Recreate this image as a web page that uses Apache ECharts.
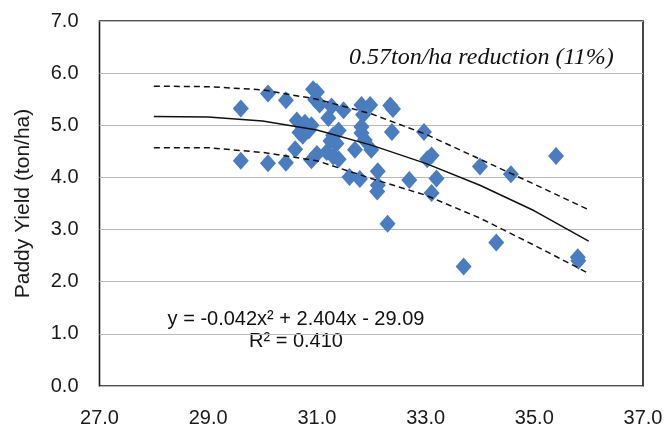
<!DOCTYPE html>
<html>
<head>
<meta charset="utf-8">
<script src="https://cdn.jsdelivr.net/npm/echarts@6/dist/echarts.min.js"></script>
<style>
  html, body { margin: 0; padding: 0; background: #fff; }
  #chart { width: 669px; height: 425px; }
</style>
</head>
<body>
<div id="chart"></div>
<script>
// Observed temperature (°C) and paddy yield (ton/ha)
const tempX = [
  29.6, 29.6, 30.1, 30.1, 30.43, 30.43, 30.6, 30.63, 30.74, 30.78,
  30.9, 30.85, 30.93, 31.0, 30.97, 30.9, 31.0, 31.18, 31.21, 31.27,
  31.3, 31.3, 31.36, 31.49, 31.4, 31.6, 31.79, 31.7, 31.82, 31.98,
  31.82, 31.82, 31.88, 32.0, 31.85, 32.12, 32.12, 32.11, 32.3, 32.35,
  32.4, 32.38, 32.7, 32.97, 33.03, 33.11, 33.11, 33.2, 34.0, 34.57,
  35.4, 34.3, 33.7, 35.8, 35.81, 31.25, 31.05, 31.4, 30.68
];
const yieldY = [
  5.32, 4.32, 5.61, 4.27, 5.48, 4.28, 4.54, 5.09, 4.80, 5.05,
  5.00, 4.90, 5.69, 5.64, 5.49, 4.33, 4.45, 4.49, 5.14, 5.36,
  4.81, 4.40, 4.65, 5.29, 4.90, 4.01, 3.97, 4.53, 5.39, 5.39,
  4.97, 4.85, 4.72, 4.53, 5.20, 4.12, 3.85, 3.73, 3.11, 5.38,
  5.31, 4.87, 3.95, 4.87, 4.35, 4.42, 3.70, 3.98, 4.21, 4.06,
  4.41, 2.75, 2.29, 2.47, 2.40, 4.70, 5.40, 4.35, 4.86
];

// Quadratic trend and its upper / lower bands
const fitX   = [28, 29, 30, 31, 32, 33, 34, 35, 36];
const fitY   = [5.17, 5.16, 5.08, 4.91, 4.62, 4.27, 3.85, 3.36, 2.78];
const upperY = [5.75, 5.74, 5.68, 5.50, 5.22, 4.83, 4.35, 3.87, 3.38];
const lowerY = [4.57, 4.57, 4.48, 4.32, 3.98, 3.66, 3.22, 2.70, 2.16];

const equationText = 'y = -0.042x\u00B2 + 2.404x - 29.09';
const r2Text = 'R\u00B2 = 0.410';
const noteText = '0.57ton/ha reduction (11%)';

const pairs = (xs, ys) => xs.map((x, i) => [x, ys[i]]);
const sansFont = 'Liberation Sans, Arial, sans-serif';

const chart = echarts.init(document.getElementById('chart'), null, { renderer: 'canvas' });

const lineBase = {
  type: 'line',
  symbol: 'none',
  silent: true,
  z: 5,
  animation: false
};

chart.setOption({
  animation: false,
  backgroundColor: '#fff',
  grid: {
    left: 99.5, right: 26, top: 21, bottom: 39,
    show: true, borderColor: '#1a1a1a', borderWidth: 1.6,
    containLabel: false, outerBoundsMode: 'none'
  },
  xAxis: {
    type: 'value',
    min: 27, max: 37, interval: 2,
    axisLine: { show: false },
    axisTick: { show: false },
    splitLine: { show: false },
    axisLabel: {
      margin: 22,
      color: '#1a1a1a',
      fontFamily: sansFont,
      fontSize: 20,
      formatter: v => v.toFixed(1)
    }
  },
  yAxis: {
    type: 'value',
    min: 0, max: 7, interval: 1,
    name: 'Paddy Yield (ton/ha)',
    nameLocation: 'middle',
    nameRotate: 90,
    nameGap: 66,
    nameTextStyle: { color: '#1a1a1a', fontFamily: sansFont, fontSize: 21 },
    axisLine: { show: false },
    axisTick: { show: false },
    splitLine: { show: true, lineStyle: { color: '#b8b8b8', width: 1.2 } },
    axisLabel: {
      margin: 21,
      color: '#1a1a1a',
      fontFamily: sansFont,
      fontSize: 20,
      formatter: v => v.toFixed(1)
    }
  },
  graphic: [
    {
      type: 'text', left: 349, top: 46, silent: true,
      style: {
        text: noteText,
        font: 'italic 24px "Liberation Serif", "Times New Roman", serif',
        fill: '#111'
      }
    },
    {
      type: 'text', x: 296, y: 319, silent: true,
      style: {
        text: equationText, align: 'center', verticalAlign: 'middle',
        font: '20px "Liberation Sans", Arial, sans-serif', fill: '#111'
      }
    },
    {
      type: 'text', x: 296, y: 341, silent: true,
      style: {
        text: r2Text, align: 'center', verticalAlign: 'middle',
        font: '20px "Liberation Sans", Arial, sans-serif', fill: '#111'
      }
    }
  ],
  series: [
    {
      type: 'scatter',
      data: pairs(tempX, yieldY),
      symbol: 'diamond',
      symbolSize: [16, 18],
      itemStyle: { color: '#4a7cc0', opacity: 1 },
      z: 2
    },
    Object.assign({}, lineBase, {
      data: pairs(fitX, fitY),
      lineStyle: { color: '#111', width: 1.5, type: 'solid' }
    }),
    Object.assign({}, lineBase, {
      data: pairs(fitX, upperY),
      lineStyle: { color: '#111', width: 1.5, type: [6, 4] }
    }),
    Object.assign({}, lineBase, {
      data: pairs(fitX, lowerY),
      lineStyle: { color: '#111', width: 1.5, type: [6, 4] }
    })
  ]
});
</script>
</body>
</html>
